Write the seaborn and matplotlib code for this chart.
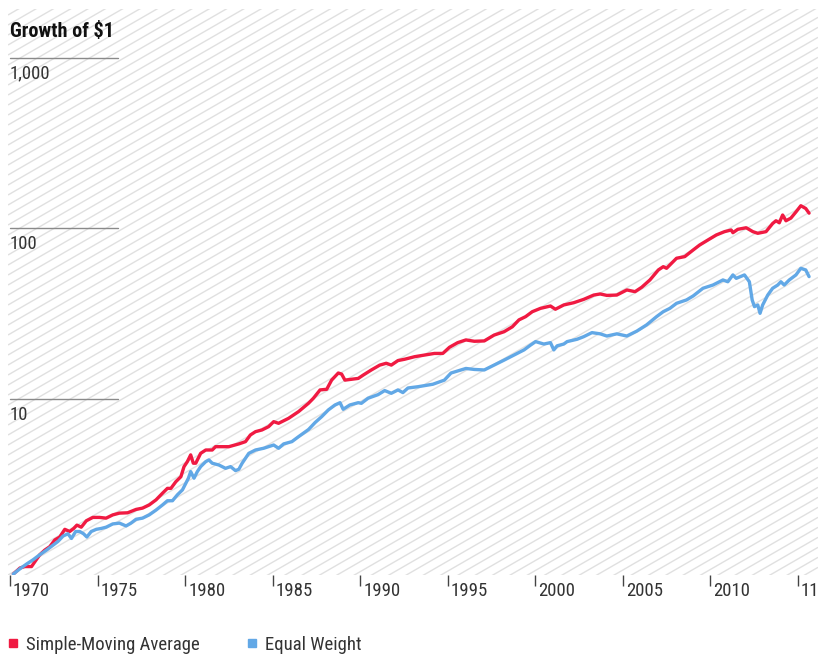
import numpy as np
import pandas as pd
import matplotlib
matplotlib.use('Agg')
import matplotlib.pyplot as plt
import matplotlib.transforms as mtransforms
from matplotlib import font_manager
from matplotlib.collections import LineCollection
from matplotlib.lines import Line2D
import seaborn as sns

# series (year, growth of $1)
sma_years = [1970.19, 1970.57, 1970.85, 1971.23, 1971.42, 1971.70, 1971.99, 1972.27, 1972.56, 1972.84,
             1973.13, 1973.41, 1973.64, 1973.82, 1974.07, 1974.36, 1974.73, 1975.11, 1975.49, 1975.87,
             1976.25, 1976.72, 1977.20, 1977.57, 1977.95, 1978.34, 1978.71, 1978.99, 1979.19, 1979.47,
             1979.76, 1979.94, 1980.13, 1980.32, 1980.47, 1980.61, 1980.89, 1981.18, 1981.55, 1981.74,
             1982.50, 1983.07, 1983.45, 1983.73, 1984.02, 1984.39, 1984.77, 1985.06, 1985.34, 1985.91,
             1986.48, 1987.05, 1987.33, 1987.71, 1988.09, 1988.37, 1988.75, 1988.94, 1989.13, 1989.51,
             1989.89, 1990.17, 1990.64, 1991.12, 1991.49, 1991.78, 1992.16, 1992.54, 1993.11, 1993.68,
             1994.24, 1994.72, 1995.10, 1995.57, 1996.04, 1996.52, 1997.09, 1997.65, 1998.22, 1998.69,
             1999.07, 1999.45, 1999.83, 2000.30, 2000.87, 2001.15, 2001.63, 2002.20, 2002.77, 2003.34,
             2003.71, 2004.09, 2004.66, 2005.23, 2005.70, 2006.08, 2006.55, 2007.03, 2007.31, 2007.50,
             2008.07, 2008.54, 2009.02, 2009.39, 2009.87, 2010.34, 2010.81, 2011.19, 2011.29, 2011.57,
             2012.05, 2012.43, 2012.71, 2013.18, 2013.56, 2013.75, 2013.94, 2014.13, 2014.32, 2014.60,
             2014.89, 2015.17, 2015.45, 2015.64]
sma_values = [0.94, 1.02, 1.04, 1.04, 1.11, 1.22, 1.30, 1.36, 1.49, 1.55,
              1.72, 1.67, 1.74, 1.82, 1.77, 1.93, 2.02, 2.02, 2.00, 2.09,
              2.14, 2.15, 2.25, 2.29, 2.39, 2.56, 2.80, 2.99, 2.99, 3.27,
              3.50, 4.01, 4.29, 4.70, 4.20, 4.20, 4.80, 5.02, 5.02, 5.25,
              5.25, 5.45, 5.62, 6.15, 6.43, 6.58, 6.88, 7.36, 7.20, 7.70,
              8.43, 9.44, 10.1, 11.3, 11.4, 12.9, 14.2, 14.0, 12.9, 13.05,
              13.2, 13.8, 14.8, 15.8, 16.2, 15.8, 16.8, 17.1, 17.7, 18.1,
              18.5, 18.5, 20.1, 21.4, 22.2, 21.8, 21.9, 23.7, 24.8, 26.5,
              29.1, 30.4, 32.5, 34.0, 35.1, 33.6, 35.6, 36.7, 38.4, 40.7,
              41.3, 40.5, 40.7, 43.6, 42.6, 45.2, 49.9, 57.1, 59.7, 58.4,
              66.9, 68.4, 74.8, 80.0, 85.7, 91.6, 95.8, 98.0, 94.5, 98.9,
              101, 95.8, 93.7, 95.8, 107, 111, 108, 120, 111, 115,
              125, 136, 131, 123]

ew_years = [1970.19, 1970.57, 1970.97, 1971.32, 1971.70, 1972.09, 1972.46, 1972.74, 1973.03, 1973.31,
            1973.51, 1973.75, 1973.98, 1974.20, 1974.39, 1974.64, 1974.93, 1975.21, 1975.49, 1975.87,
            1976.25, 1976.63, 1976.91, 1977.20, 1977.57, 1977.95, 1978.34, 1978.71, 1978.99, 1979.28,
            1979.56, 1979.85, 1980.04, 1980.19, 1980.32, 1980.51, 1980.70, 1980.89, 1981.18, 1981.36,
            1981.55, 1981.93, 1982.31, 1982.60, 1982.88, 1983.07, 1983.26, 1983.64, 1984.02, 1984.49,
            1985.06, 1985.34, 1985.63, 1986.10, 1986.48, 1987.05, 1987.43, 1987.80, 1988.18, 1988.56,
            1988.85, 1989.03, 1989.41, 1989.89, 1990.07, 1990.45, 1991.02, 1991.40, 1991.78, 1992.16,
            1992.44, 1992.73, 1993.30, 1994.15, 1994.81, 1995.19, 1995.76, 1996.04, 1996.52, 1997.09,
            1997.65, 1998.22, 1998.79, 1999.36, 1999.73, 2000.02, 2000.49, 2000.87, 2001.06, 2001.25,
            2001.63, 2001.82, 2002.39, 2002.77, 2003.24, 2003.71, 2004.09, 2004.66, 2005.23, 2005.80,
            2006.36, 2006.93, 2007.31, 2007.69, 2008.07, 2008.64, 2009.02, 2009.58, 2010.15, 2010.72,
            2011.00, 2011.29, 2011.48, 2011.95, 2012.23, 2012.39, 2012.52, 2012.71, 2012.84, 2012.99,
            2013.28, 2013.56, 2013.85, 2014.03, 2014.22, 2014.51, 2014.89, 2015.17, 2015.45, 2015.64]
ew_values = [0.94, 1.01, 1.08, 1.14, 1.22, 1.30, 1.39, 1.46, 1.57, 1.62,
             1.52, 1.67, 1.67, 1.62, 1.55, 1.67, 1.72, 1.74, 1.77, 1.85,
             1.87, 1.80, 1.87, 1.97, 2.00, 2.09, 2.23, 2.39, 2.53, 2.53,
             2.74, 2.93, 3.20, 3.43, 3.75, 3.43, 3.75, 4.01, 4.29, 4.39,
             4.20, 4.10, 3.92, 4.01, 3.80, 3.87, 4.20, 4.80, 5.02, 5.14,
             5.37, 5.14, 5.45, 5.62, 6.01, 6.62, 7.28, 7.87, 8.62, 9.22,
             9.51, 8.70, 9.22, 9.51, 9.43, 10.1, 10.6, 11.2, 10.8, 11.3,
             10.9, 11.6, 11.8, 12.2, 12.9, 14.2, 14.8, 15.1, 14.9, 14.8,
             15.8, 16.9, 18.1, 19.4, 20.7, 21.7, 21.0, 21.4, 19.4, 20.5,
             21.0, 21.7, 22.4, 23.2, 24.5, 24.1, 23.4, 24.1, 23.4, 25.0,
             27.2, 30.4, 32.5, 34.0, 36.4, 38.1, 40.2, 44.6, 46.6, 49.9,
             48.7, 53.4, 51.0, 53.4, 48.7, 38.1, 34.8, 35.6, 31.8, 35.6,
             40.7, 44.6, 46.6, 48.7, 46.6, 49.9, 53.4, 58.4, 57.1, 52.2]

series_names = ['Simple-Moving Average', 'Equal Weight']
series_colors = ['#f01a42', '#62a8e6']
tick_years = [1970, 1975, 1980, 1985, 1990, 1995, 2000, 2005, 2010, 2015]
tick_labels = ['1970', '1975', '1980', '1985', '1990', '1995', '2000', '2005', '2010', '11']
y_levels = [1000, 100, 10]
y_labels = ['1,000', '100', '10']

sns.set_style('white')
names = {f.name for f in font_manager.fontManager.ttflist}
family = next(f for f in ['Liberation Sans Narrow', 'Roboto Condensed', 'Liberation Sans', 'DejaVu Sans'] if f in names)
plt.rcParams['font.family'] = [family, 'DejaVu Sans']

df = pd.concat([
    pd.DataFrame({'year': sma_years, 'value': sma_values, 'series': series_names[0]}),
    pd.DataFrame({'year': ew_years, 'value': ew_values, 'series': series_names[1]}),
], ignore_index=True)

W, H = 818, 654
fig = plt.figure(figsize=(W / 100, H / 100), dpi=100)
ax = fig.add_axes([8 / W, (H - 575) / H, 810 / W, 566 / H])

# diagonal hatch background
aw, ah = 810, 566
slope = np.tan(np.radians(30))
segs = []
for c in np.arange(-480, ah + 10, 10):
    segs.append([(0, c / ah), (1, (c + aw * slope) / ah)])
lc = LineCollection(segs, colors='#e0e0e0', linewidths=1.0, transform=ax.transAxes, zorder=0)
ax.add_collection(lc, autolim=False)

sns.lineplot(data=df, x='year', y='value', hue='series', palette=series_colors,
             hue_order=series_names, linewidth=2.4, ax=ax, legend=False, zorder=3,
             estimator=None, sort=False)

ax.set_yscale('log')
ax.set_xlim(1969.886, 2016.15)
ax.set_ylim(0.928, 1938)
for s in ax.spines.values():
    s.set_visible(False)
ax.set_xlabel('')
ax.set_ylabel('')
ax.set_yticks([])
ax.yaxis.set_minor_locator(matplotlib.ticker.NullLocator())

# short gridlines with labels underneath
for lev, lab in zip(y_levels, y_labels):
    ax.axhline(lev, xmin=2 / aw, xmax=110 / aw, color='#8a8a8a', linewidth=1.0, zorder=2)
    ax.annotate(lab, xy=(2 / aw, lev), xycoords=ax.get_yaxis_transform(),
                xytext=(0, -15.0), textcoords='offset points', ha='left', va='baseline',
                fontsize=13.5, color='#333333')

ax.set_xticks(tick_years)
ax.set_xticklabels(tick_labels, ha='left', va='baseline')
ax.tick_params(axis='x', length=8, width=1, color='#444444', direction='out',
               pad=7.0, labelsize=13.5, labelcolor='#333333', bottom=True)
offset = mtransforms.ScaledTranslation(3 / 100, 0, fig.dpi_scale_trans)
for lab in ax.get_xticklabels():
    lab.set_transform(lab.get_transform() + offset)

fig.text(10 / W, 1 - 37 / H, 'Growth of $1', fontsize=14.5, fontweight='bold',
         color='#111111', ha='left', va='baseline')

handles = [Line2D([], [], marker='s', linestyle='none', color=c, markersize=6) for c in series_colors]
fig.legend(handles, series_names, loc='center left', bbox_to_anchor=(5 / W, 1 - 645 / H),
           ncol=2, frameon=False, fontsize=13.5, handlelength=0.8, handletextpad=0.3,
           columnspacing=2.4, borderpad=0, borderaxespad=0, labelcolor='#333333')

fig.savefig('out.png', dpi=100)
